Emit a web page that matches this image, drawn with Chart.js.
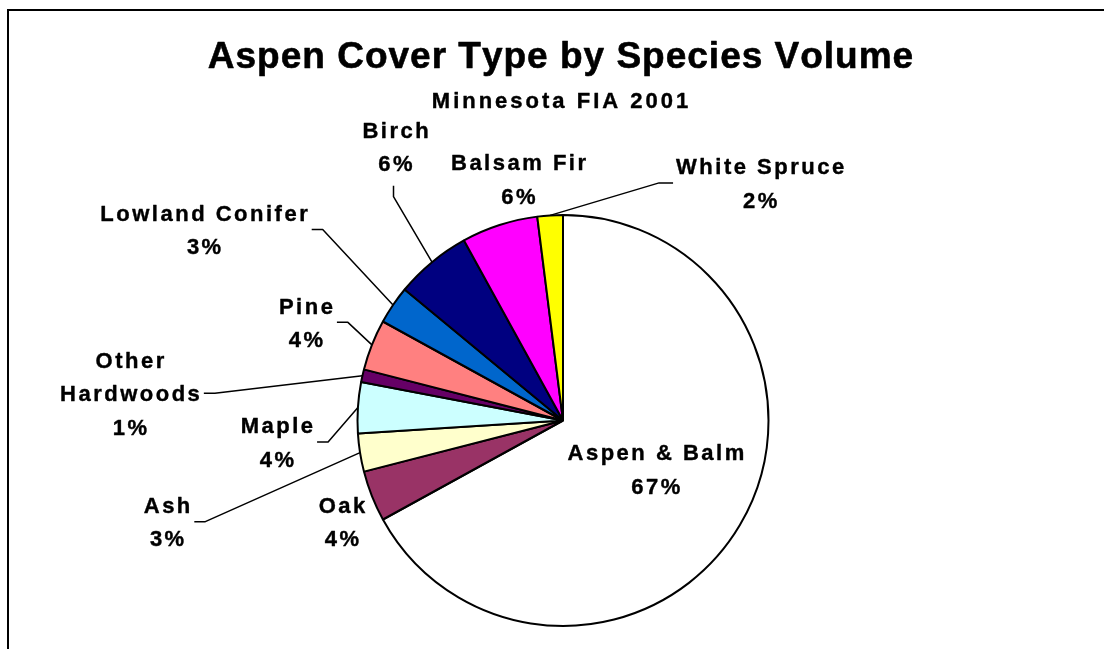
<!DOCTYPE html>
<html>
<head>
<meta charset="utf-8">
<script src="https://cdn.jsdelivr.net/npm/chart.js@4.4.0/dist/chart.umd.min.js"></script>
<style>
  html, body { margin: 0; padding: 0; background: #fff; }
  canvas { display: block; }
</style>
</head>
<body>
<canvas id="pie_canvas" width="1104" height="649"></canvas>
<script>
// Aspen cover type, share of volume by species (%), clockwise from 12 o'clock
const species = ['Aspen & Balm', 'Oak', 'Ash', 'Maple', 'Other Hardwoods', 'Pine', 'Lowland Conifer', 'Birch', 'Balsam Fir', 'White Spruce'];
const volumePct = [67, 4, 3, 4, 1, 4, 3, 6, 6, 2];
const sliceColors = ['#FFFFFF', '#993366', '#FFFFCC', '#CCFFFF', '#660066', '#FF8080', '#0066CC', '#000080', '#FF00FF', '#FFFF00'];

// where each label sits, as offset from the slice's outer mid point,
// and which side of the label the leader line leaves from
const labelPlace = [
    { dx: -84, dy: -56 },
    { dx: -30, dy: 25.5 },
    { dx: -193, dy: 69, leader: 'right' },
    { dx: -81, dy: 34.5, leader: 'right' },
    { dx: -232.5, dy: 17.5, leader: 'right', wrap: ['Other', 'Hardwoods'] },
    { dx: -66, dy: -22.5, leader: 'right' },
    { dx: -189, dy: -75.5, leader: 'right' },
    { dx: -36.5, dy: -115.5, leader: 'bottom' },
    { dx: 19, dy: -46 },
    { dx: 210, dy: -32.5, leader: 'left' }
];

const FONT = '"Liberation Sans", Arial, sans-serif';
const LINE_H = 33.5;

// draw text centred on cx with extra space between letters
// (a thin stroke makes the bold face a little heavier)
function drawSpaced(ctx, text, cx, y, spacing) {
    const chars = [...text];
    const widths = chars.map(c => ctx.measureText(c).width);
    const total = widths.reduce((a, b) => a + b, 0) + spacing * (chars.length - 1);
    let x = cx - total / 2;
    chars.forEach((c, i) => {
        ctx.fillText(c, x, y);
        ctx.strokeText(c, x, y);
        x += widths[i] + spacing;
    });
    return total;
}

const pieText = {
    id: 'pieText',
    beforeDraw(chart) {
        const ctx = chart.ctx;
        ctx.save();
        ctx.fillStyle = '#fff';
        ctx.fillRect(0, 0, chart.width, chart.height);
        // outer frame, runs off the right and bottom edge
        ctx.strokeStyle = '#000';
        ctx.lineWidth = 2;
        ctx.strokeRect(8, 10, chart.width + 40, chart.height + 40);
        ctx.restore();
    },
    afterDraw(chart) {
        const ctx = chart.ctx;
        ctx.save();
        ctx.fillStyle = '#000';
        ctx.strokeStyle = '#000';
        ctx.lineJoin = 'round';
        ctx.textAlign = 'left';
        ctx.textBaseline = 'alphabetic';

        ctx.lineWidth = 0.6;
        ctx.font = 'bold 37px ' + FONT;
        drawSpaced(ctx, 'Aspen Cover Type by Species Volume', 560.5, 68, 1);
        ctx.lineWidth = 0.4;
        ctx.font = 'bold 22px ' + FONT;
        drawSpaced(ctx, 'Minnesota FIA 2001', 560, 108, 3);

        const meta = chart.getDatasetMeta(0);
        meta.data.forEach((arc, i) => {
            const { x, y, startAngle, endAngle, outerRadius } =
                arc.getProps(['x', 'y', 'startAngle', 'endAngle', 'outerRadius'], true);
            const mid = (startAngle + endAngle) / 2;
            const ex = x + Math.cos(mid) * outerRadius;
            const ey = y + Math.sin(mid) * outerRadius;
            const p = labelPlace[i];
            const bx = ex + p.dx;
            const by = ey + p.dy;
            const lines = (p.wrap ? p.wrap.slice() : [species[i]]);
            lines.push(volumePct[i] + '%');

            ctx.font = 'bold 22px ' + FONT;
            ctx.lineWidth = 0.4;
            let w = 0;
            lines.forEach((t, j) => {
                const cy = by + (j - (lines.length - 1) / 2) * LINE_H;
                w = Math.max(w, drawSpaced(ctx, t, bx, cy + 8, 2.5));
            });

            if (p.leader) {
                const h = lines.length * LINE_H;
                let sx, sy, kx, ky;
                if (p.leader === 'right') {
                    sx = bx + w / 2 + 4; sy = by; kx = sx + 11; ky = sy;
                } else if (p.leader === 'left') {
                    sx = bx - w / 2 - 3; sy = by; kx = sx - 14; ky = sy;
                } else {
                    sx = bx - 2; sy = by + h / 2 + 5.5; kx = sx; ky = sy + 11;
                }
                ctx.beginPath();
                ctx.lineWidth = 1.5;
                ctx.moveTo(sx, sy);
                ctx.lineTo(kx, ky);
                ctx.lineTo(ex, ey);
                ctx.stroke();
            }
        });
        ctx.restore();
    }
};

const canva = document.getElementById('pie_canvas');
const myChart = new Chart(canva, {
    type: 'pie',
    data: {
        labels: species,
        datasets: [{
            data: volumePct,
            backgroundColor: sliceColors,
            borderColor: '#000',
            borderWidth: 2
        }]
    },
    options: {
        responsive: false,
        animation: false,
        events: [],
        layout: {
            padding: { top: 214, bottom: 22, left: 263, right: 241 }
        },
        plugins: {
            legend: { display: false },
            tooltip: { enabled: false },
            title: { display: false }
        }
    },
    plugins: [pieText]
});
</script>
</body>
</html>
